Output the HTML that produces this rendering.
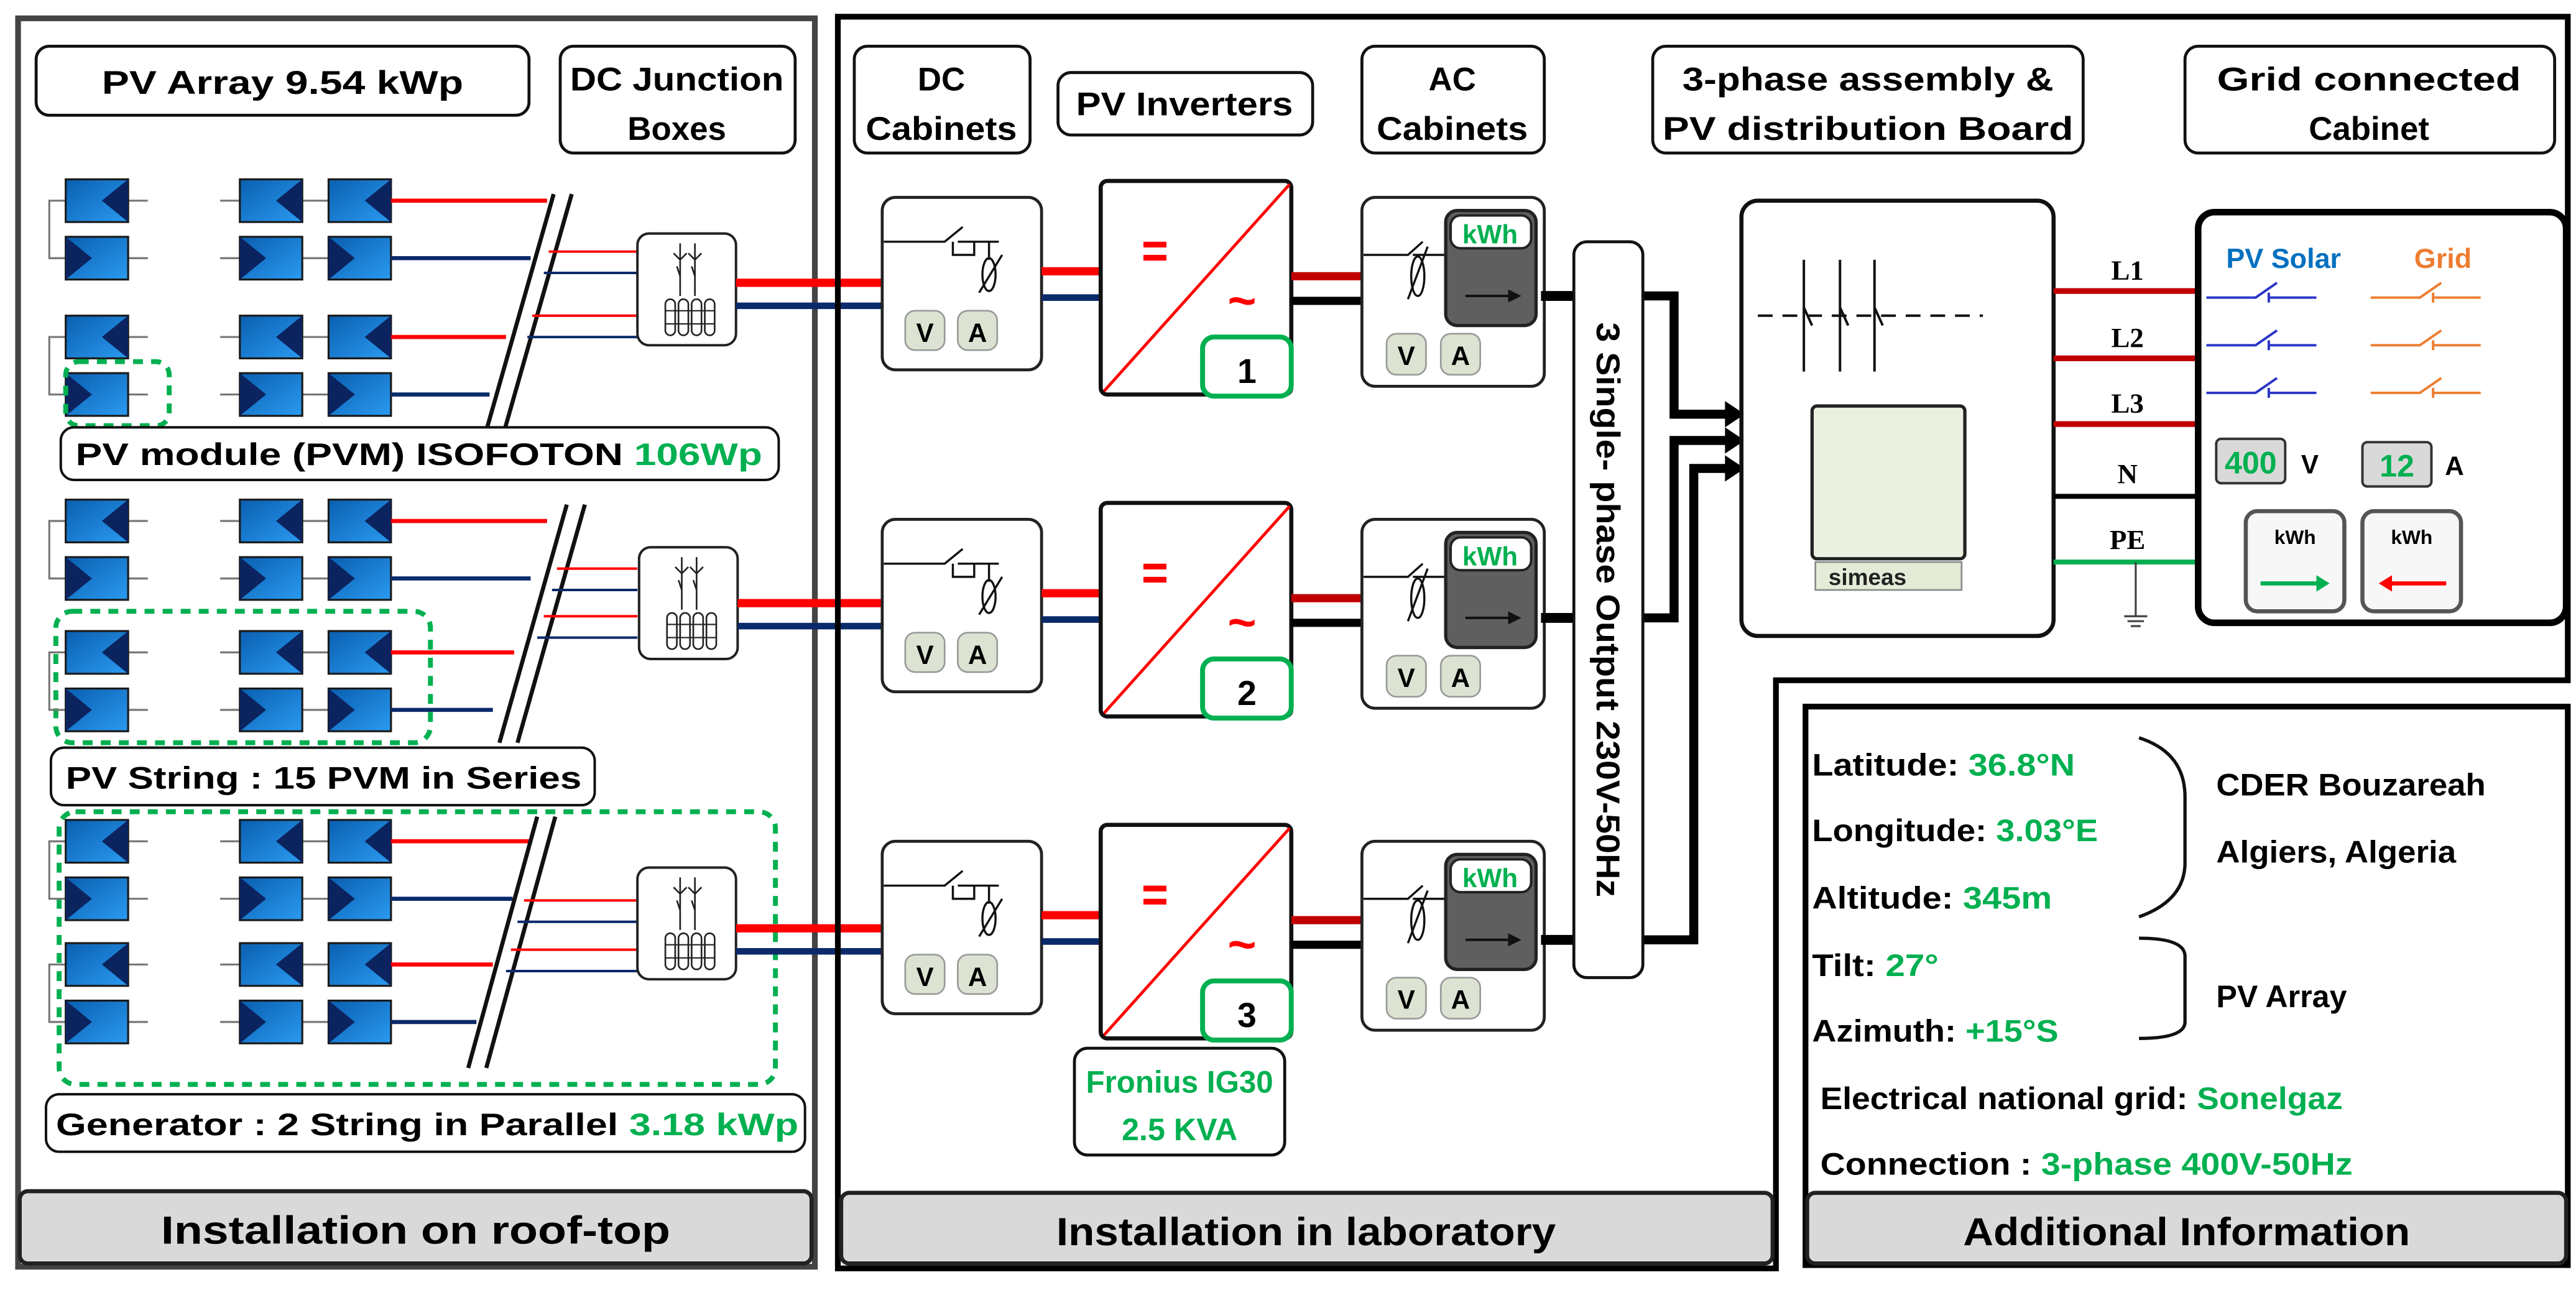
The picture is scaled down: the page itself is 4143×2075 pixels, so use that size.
<!DOCTYPE html>
<html><head><meta charset="utf-8"><style>
html,body{margin:0;padding:0;background:#fff;}
svg{display:block;}
text{font-family:"Liberation Sans",sans-serif;font-weight:bold;}
</style></head><body>
<svg width="4143" height="2075" viewBox="0 0 1568 785" xmlns="http://www.w3.org/2000/svg">
<defs>
<linearGradient id="mg" x1="0" y1="0" x2="1" y2="1"><stop offset="0" stop-color="#0a5fb0"/><stop offset="1" stop-color="#2a9af0"/></linearGradient>
<g id="mL"><rect x="0" y="-13" width="38" height="26" fill="url(#mg)" stroke="#1a1a1a" stroke-width="1.2"/><polygon points="38,-13 38,13 22,0" fill="#0b2460"/></g>
<g id="mR"><rect x="0" y="-13" width="38" height="26" fill="url(#mg)" stroke="#1a1a1a" stroke-width="1.2"/><polygon points="0,-13 0,13 16,0" fill="#0b2460"/></g>
<g id="pair">
<path d="M40,0 H30 V35 H40 M78,0 H90 M134,0 H146 M184,0 H200 M78,35 H90 M134,35 H146 M184,35 H200" stroke="#777" stroke-width="1.2" fill="none"/>
<use href="#mL" x="40"/><use href="#mL" x="146"/><use href="#mL" x="200"/>
<use href="#mR" x="40" y="35"/><use href="#mR" x="146" y="35"/><use href="#mR" x="200" y="35"/>
</g>
<g id="jb">
<rect x="0" y="0" width="60" height="68" rx="7" fill="#fff" stroke="#222" stroke-width="1.5"/>
<path d="M26,6 V16 M22,12 L26,16 L30,12 M35,6 V16 M31,12 L35,16 L39,12 M26,16 V26 L24,20 M26,26 V38 M35,16 V26 L33,20 M35,26 V38" stroke="#222" stroke-width="1" fill="none"/>
<rect x="17" y="40" width="6" height="22" rx="3" fill="#fff" stroke="#222" stroke-width="1"/>
<rect x="25" y="40" width="6" height="22" rx="3" fill="#fff" stroke="#222" stroke-width="1"/>
<rect x="33" y="40" width="6" height="22" rx="3" fill="#fff" stroke="#222" stroke-width="1"/>
<rect x="41" y="40" width="6" height="22" rx="3" fill="#fff" stroke="#222" stroke-width="1"/>
<path d="M17,47 H47 M17,55 H47" stroke="#222" stroke-width="0.8"/>
</g>
<g id="row">
<rect x="537" y="120" width="97" height="105" rx="8" fill="#fff" stroke="#222" stroke-width="1.8"/>
<path d="M538,147 H575 L586,138 M580,147 V155 H593 V147 M583,147 H608 M602,147 V158" stroke="#111" stroke-width="1.3" fill="none"/>
<ellipse cx="602" cy="167" rx="4" ry="10" fill="none" stroke="#111" stroke-width="1.3"/>
<path d="M596,178 L610,155" stroke="#111" stroke-width="1.3"/>
<rect x="551" y="189" width="24" height="24" rx="6" fill="#dce3d2" stroke="#999" stroke-width="1"/>
<rect x="583" y="189" width="24" height="24" rx="6" fill="#dce3d2" stroke="#999" stroke-width="1"/>
<text x="563" y="208" font-size="16" font-weight="normal" text-anchor="middle">V</text>
<text x="595" y="208" font-size="16" font-weight="normal" text-anchor="middle">A</text>
<path d="M634,165 H670" stroke="#ff0000" stroke-width="5"/>
<path d="M634,181 H670" stroke="#0a2a6a" stroke-width="4"/>
<rect x="670" y="110" width="116" height="130" rx="4" fill="#fff" stroke="#111" stroke-width="2.5"/>
<path d="M672,238 L785,112" stroke="#ff0000" stroke-width="1.8"/>
<rect x="696" y="147" width="14" height="3.5" fill="#ff0000"/><rect x="696" y="155" width="14" height="3.5" fill="#ff0000"/>
<text x="756" y="193" font-size="30" fill="#ff0000" text-anchor="middle">~</text>
<rect x="732" y="205" width="54" height="36" rx="7" fill="#fff" stroke="#00b050" stroke-width="3"/>
<path d="M786,168 H829" stroke="#c00000" stroke-width="5"/>
<path d="M786,183 H829" stroke="#000" stroke-width="5"/>
<rect x="829" y="120" width="111" height="115" rx="8" fill="#fff" stroke="#222" stroke-width="1.8"/>
<path d="M830,155 H857 L866,147 M860,155 H880" stroke="#111" stroke-width="1.3" fill="none"/>
<ellipse cx="863" cy="168" rx="4" ry="12" fill="none" stroke="#111" stroke-width="1.3"/>
<path d="M857,182 L869,150" stroke="#111" stroke-width="1.3"/>
<rect x="880" y="128" width="55" height="70" rx="7" fill="#5f5f5f" stroke="#222" stroke-width="2"/>
<rect x="883" y="131" width="49" height="20" rx="6" fill="#fff" stroke="#222" stroke-width="1.5"/>
<text x="907" y="148" font-size="16" font-weight="normal" fill="#00b050" text-anchor="middle">kWh</text>
<path d="M892,180 H920" stroke="#111" stroke-width="1.5"/><polygon points="918,176 926,180 918,184" fill="#111"/>
<rect x="844" y="203" width="24" height="25" rx="6" fill="#dce3d2" stroke="#999" stroke-width="1"/>
<rect x="877" y="203" width="24" height="25" rx="6" fill="#dce3d2" stroke="#999" stroke-width="1"/>
<text x="856" y="222" font-size="16" font-weight="normal" text-anchor="middle">V</text>
<text x="889" y="222" font-size="16" font-weight="normal" text-anchor="middle">A</text>
<path d="M938,180 H960" stroke="#000" stroke-width="6"/>
</g>
</defs>

<rect x="11" y="11" width="485" height="760" fill="#fff" stroke="#444" stroke-width="3.5"/>
<rect x="22" y="28" width="300" height="42" rx="8" fill="#fff" stroke="#111" stroke-width="1.8"/>
<text x="172" y="57" font-size="20" text-anchor="middle" textLength="220" lengthAdjust="spacingAndGlyphs">PV Array 9.54 kWp</text>
<rect x="341" y="28" width="143" height="65" rx="8" fill="#fff" stroke="#111" stroke-width="1.8"/>
<text x="412" y="55" font-size="20" text-anchor="middle" textLength="130" lengthAdjust="spacingAndGlyphs">DC Junction</text>
<text x="412" y="85" font-size="20" text-anchor="middle">Boxes</text>

<rect x="34" y="372" width="228" height="80" rx="10" fill="none" stroke="#00b050" stroke-width="3" stroke-dasharray="6,5"/>
<rect x="36" y="494" width="436" height="166" rx="10" fill="none" stroke="#00b050" stroke-width="3" stroke-dasharray="6,5"/>

<use href="#pair" y="122"/><use href="#pair" y="205"/>
<rect x="40" y="220" width="63" height="39" rx="8" fill="none" stroke="#00b050" stroke-width="3" stroke-dasharray="6,5"/>
<path d="M238,122 H333 M238,205 H308" stroke="#ff0000" stroke-width="2.5"/>
<path d="M238,157 H323 M238,240 H298" stroke="#0a2a6a" stroke-width="2.5"/>
<path d="M337,118 L296,262 M348,118 L307,262" stroke="#111" stroke-width="2.5"/>
<path d="M334,153 H388 M324,192 H388" stroke="#ff0000" stroke-width="1.5"/>
<path d="M331,166 H388 M321,205 H388" stroke="#0a2a6a" stroke-width="1.5"/>
<use href="#jb" x="388" y="142"/>
<path d="M448,172 H538" stroke="#ff0000" stroke-width="5"/>
<path d="M448,186 H538" stroke="#0a2a6a" stroke-width="4"/>

<rect x="37" y="260" width="437" height="32" rx="8" fill="#fff" stroke="#111" stroke-width="1.5"/>
<text x="46" y="283" font-size="19" textLength="418" lengthAdjust="spacingAndGlyphs">PV module (PVM) ISOFOTON <tspan fill="#00b050">106Wp</tspan></text>

<use href="#pair" y="317"/><use href="#pair" y="397"/>
<path d="M238,317 H333 M238,397 H313" stroke="#ff0000" stroke-width="2.5"/>
<path d="M238,352 H323 M238,432 H300" stroke="#0a2a6a" stroke-width="2.5"/>
<path d="M345,307 L304,452 M356,307 L315,452" stroke="#111" stroke-width="2.5"/>
<path d="M339,346 H388 M331,375 H388" stroke="#ff0000" stroke-width="1.5"/>
<path d="M336,359 H388 M327,388 H388" stroke="#0a2a6a" stroke-width="1.5"/>
<use href="#jb" x="389" y="333"/>
<path d="M449,367 H538" stroke="#ff0000" stroke-width="5"/>
<path d="M449,381 H538" stroke="#0a2a6a" stroke-width="4"/>

<rect x="31" y="455" width="331" height="35" rx="8" fill="#fff" stroke="#111" stroke-width="1.5"/>
<text x="40" y="480" font-size="19" textLength="314" lengthAdjust="spacingAndGlyphs">PV String : 15 PVM in Series</text>

<use href="#pair" y="512"/><use href="#pair" y="587"/>
<path d="M238,512 H322 M238,587 H300" stroke="#ff0000" stroke-width="2.5"/>
<path d="M238,547 H312 M238,622 H290" stroke="#0a2a6a" stroke-width="2.5"/>
<path d="M327,497 L285,650 M338,497 L296,650" stroke="#111" stroke-width="2.5"/>
<path d="M319,548 H388 M311,578 H388" stroke="#ff0000" stroke-width="1.5"/>
<path d="M315,561 H388 M308,591 H388" stroke="#0a2a6a" stroke-width="1.5"/>
<use href="#jb" x="388" y="528"/>
<path d="M448,565 H538" stroke="#ff0000" stroke-width="5"/>
<path d="M448,579 H538" stroke="#0a2a6a" stroke-width="4"/>

<rect x="28" y="666" width="462" height="35" rx="8" fill="#fff" stroke="#111" stroke-width="1.5"/>
<text x="34" y="691" font-size="19" textLength="452" lengthAdjust="spacingAndGlyphs">Generator : 2 String in Parallel <tspan fill="#00b050">3.18 kWp</tspan></text>

<rect x="12" y="725" width="482" height="44" rx="5" fill="#d9d9d9" stroke="#222" stroke-width="2.5"/>
<text x="253" y="757" font-size="24" text-anchor="middle" textLength="310" lengthAdjust="spacingAndGlyphs">Installation on roof-top</text>

<path d="M510,10 H1563 V414 H1081 V772 H510 Z" fill="none" stroke="#000" stroke-width="3.5"/>

<rect x="520" y="28" width="107" height="65" rx="8" fill="#fff" stroke="#111" stroke-width="1.8"/>
<text x="573" y="55" font-size="20" text-anchor="middle">DC</text>
<text x="573" y="85" font-size="20" text-anchor="middle" textLength="92" lengthAdjust="spacingAndGlyphs">Cabinets</text>
<rect x="644" y="44" width="155" height="38" rx="8" fill="#fff" stroke="#111" stroke-width="1.8"/>
<text x="721" y="70" font-size="20" text-anchor="middle" textLength="132" lengthAdjust="spacingAndGlyphs">PV Inverters</text>
<rect x="829" y="28" width="111" height="65" rx="8" fill="#fff" stroke="#111" stroke-width="1.8"/>
<text x="884" y="55" font-size="20" text-anchor="middle">AC</text>
<text x="884" y="85" font-size="20" text-anchor="middle" textLength="92" lengthAdjust="spacingAndGlyphs">Cabinets</text>
<rect x="1006" y="28" width="262" height="65" rx="8" fill="#fff" stroke="#111" stroke-width="1.8"/>
<text x="1137" y="55" font-size="20" text-anchor="middle" textLength="226" lengthAdjust="spacingAndGlyphs">3-phase assembly &amp;</text>
<text x="1137" y="85" font-size="20" text-anchor="middle" textLength="250" lengthAdjust="spacingAndGlyphs">PV distribution Board</text>
<rect x="1330" y="28" width="225" height="65" rx="8" fill="#fff" stroke="#111" stroke-width="1.8"/>
<text x="1442" y="55" font-size="20" text-anchor="middle" textLength="185" lengthAdjust="spacingAndGlyphs">Grid connected</text>
<text x="1442" y="85" font-size="20" text-anchor="middle">Cabinet</text>

<use href="#row"/>
<text x="759" y="233" font-size="21" text-anchor="middle">1</text>
<use href="#row" y="196"/>
<text x="759" y="429" font-size="21" text-anchor="middle">2</text>
<use href="#row" y="392"/>
<text x="759" y="625" font-size="21" text-anchor="middle">3</text>

<rect x="654" y="638" width="128" height="65" rx="8" fill="#fff" stroke="#111" stroke-width="1.8"/>
<text x="718" y="665" font-size="19" fill="#00b050" text-anchor="middle" textLength="114" lengthAdjust="spacingAndGlyphs">Fronius IG30</text>
<text x="718" y="694" font-size="19" fill="#00b050" text-anchor="middle">2.5 KVA</text>

<path d="M998,180 H1019 V252 H1053" stroke="#000" stroke-width="5.5" fill="none"/>
<path d="M998,376 H1019 V268 H1053" stroke="#000" stroke-width="5.5" fill="none"/>
<path d="M998,572 H1031 V285 H1053" stroke="#000" stroke-width="5.5" fill="none"/>
<polygon points="1050,244 1062,252 1050,260" fill="#000"/>
<polygon points="1050,260 1062,268 1050,276" fill="#000"/>
<polygon points="1050,277 1062,285 1050,293" fill="#000"/>

<rect x="958" y="147" width="42" height="448" rx="8" fill="#fff" stroke="#111" stroke-width="1.8"/>
<text transform="translate(972,371) rotate(90)" font-size="20" text-anchor="middle" textLength="350" lengthAdjust="spacingAndGlyphs">3 Single- phase Output  230V-50Hz</text>

<rect x="512" y="726" width="567" height="43" rx="5" fill="#d9d9d9" stroke="#222" stroke-width="2.5"/>
<text x="795" y="758" font-size="24" text-anchor="middle" textLength="304" lengthAdjust="spacingAndGlyphs">Installation in laboratory</text>

<rect x="1060" y="122" width="190" height="265" rx="10" fill="#fff" stroke="#111" stroke-width="2.5"/>
<path d="M1098,158 V226 M1120,158 V226 M1141,158 V226" stroke="#111" stroke-width="1.5"/>
<path d="M1098,187 L1103,198 M1120,187 L1125,198 M1141,187 L1146,198" stroke="#111" stroke-width="1.5"/>
<path d="M1070,192 H1207" stroke="#111" stroke-width="1.5" stroke-dasharray="9,6"/>
<rect x="1103" y="247" width="93" height="93" rx="3" fill="#ebf1e0" stroke="#222" stroke-width="2"/>
<rect x="1105" y="342" width="89" height="17" fill="#e4ecd8" stroke="#888" stroke-width="1"/>
<text x="1113" y="356" font-size="14" fill="#222">simeas</text>

<path d="M1250,177 H1337 M1250,218 H1337 M1250,258 H1337" stroke="#c00000" stroke-width="3.5"/>
<path d="M1250,302 H1337" stroke="#000" stroke-width="3"/>
<path d="M1250,342 H1337" stroke="#00b050" stroke-width="3"/>
<path d="M1300,342 V375 M1293,375 H1307 M1295,378 H1305 M1297,381 H1303" stroke="#444" stroke-width="1.2"/>
<g font-size="17" text-anchor="middle">
<text x="1295" y="170" style="font-family:'Liberation Serif',serif">L1</text>
<text x="1295" y="211" style="font-family:'Liberation Serif',serif">L2</text>
<text x="1295" y="251" style="font-family:'Liberation Serif',serif">L3</text>
<text x="1295" y="294" style="font-family:'Liberation Serif',serif">N</text>
<text x="1295" y="334" style="font-family:'Liberation Serif',serif">PE</text>
</g>

<rect x="1338" y="129" width="224" height="250" rx="10" fill="#fff" stroke="#000" stroke-width="4"/>
<text x="1390" y="163" font-size="17" fill="#0070c0" text-anchor="middle" font-weight="normal">PV Solar</text>
<text x="1487" y="163" font-size="17" fill="#ed7d31" text-anchor="middle" font-weight="normal">Grid</text>
<g stroke="#2b35c8" stroke-width="1.5" fill="none">
<path d="M1343,181 H1373 L1386,172 M1381,181 H1410 M1381,178 V184"/>
<path d="M1343,210 H1373 L1386,201 M1381,210 H1410 M1381,207 V213"/>
<path d="M1343,239 H1373 L1386,230 M1381,239 H1410 M1381,236 V242"/>
</g>
<g stroke="#ed7d31" stroke-width="1.5" fill="none">
<path d="M1443,181 H1473 L1486,172 M1481,181 H1510 M1481,178 V184"/>
<path d="M1443,210 H1473 L1486,201 M1481,210 H1510 M1481,207 V213"/>
<path d="M1443,239 H1473 L1486,230 M1481,239 H1510 M1481,236 V242"/>
</g>
<rect x="1349" y="267" width="42" height="27" rx="3" fill="#d9d9d9" stroke="#333" stroke-width="1.5"/>
<text x="1370" y="288" font-size="19" fill="#00b050" text-anchor="middle">400</text>
<text x="1406" y="288" font-size="16" font-weight="normal" text-anchor="middle">V</text>
<rect x="1438" y="269" width="42" height="27" rx="3" fill="#d9d9d9" stroke="#333" stroke-width="1.5"/>
<text x="1459" y="290" font-size="19" fill="#00b050" text-anchor="middle">12</text>
<text x="1494" y="289" font-size="16" font-weight="normal" text-anchor="middle">A</text>
<rect x="1367" y="311" width="60" height="61" rx="7" fill="#f7f7f7" stroke="#555" stroke-width="2.5"/>
<text x="1397" y="331" font-size="12" font-weight="normal" text-anchor="middle">kWh</text>
<path d="M1376,355 H1412" stroke="#00b050" stroke-width="2.5"/><polygon points="1410,350 1418,355 1410,360" fill="#00b050"/>
<rect x="1438" y="311" width="60" height="61" rx="7" fill="#f7f7f7" stroke="#555" stroke-width="2.5"/>
<text x="1468" y="331" font-size="12" font-weight="normal" text-anchor="middle">kWh</text>
<path d="M1454,355 H1489" stroke="#ff0000" stroke-width="2.5"/><polygon points="1456,350 1448,355 1456,360" fill="#ff0000"/>

<rect x="1099" y="430" width="464" height="340" fill="#fff" stroke="#000" stroke-width="3.5"/>
<g font-size="19">
<text x="1103" y="472" textLength="160" lengthAdjust="spacingAndGlyphs">Latitude: <tspan fill="#00b050">36.8°N</tspan></text>
<text x="1103" y="512" textLength="174" lengthAdjust="spacingAndGlyphs">Longitude: <tspan fill="#00b050">3.03°E</tspan></text>
<text x="1103" y="553" textLength="146" lengthAdjust="spacingAndGlyphs">Altitude: <tspan fill="#00b050">345m</tspan></text>
<text x="1103" y="594" textLength="77" lengthAdjust="spacingAndGlyphs">Tilt: <tspan fill="#00b050">27°</tspan></text>
<text x="1103" y="634" textLength="150" lengthAdjust="spacingAndGlyphs">Azimuth: <tspan fill="#00b050">+15°S</tspan></text>
<text x="1108" y="675" textLength="318" lengthAdjust="spacingAndGlyphs">Electrical national grid: <tspan fill="#00b050">Sonelgaz</tspan></text>
<text x="1108" y="715" textLength="324" lengthAdjust="spacingAndGlyphs">Connection : <tspan fill="#00b050">3-phase  400V-50Hz</tspan></text>
<text x="1349" y="484" textLength="164" lengthAdjust="spacingAndGlyphs">CDER Bouzareah</text>
<text x="1349" y="525" textLength="146" lengthAdjust="spacingAndGlyphs">Algiers, Algeria</text>
<text x="1349" y="613">PV Array</text>
</g>
<path d="M1302,449 Q1330,458 1330,485 V525 Q1330,548 1302,558" stroke="#111" stroke-width="2" fill="none"/>
<path d="M1302,571 Q1330,571 1330,582 V622 Q1330,632 1302,632" stroke="#111" stroke-width="2" fill="none"/>
<rect x="1100" y="726" width="462" height="43" rx="5" fill="#d9d9d9" stroke="#222" stroke-width="2.5"/>
<text x="1331" y="758" font-size="24" text-anchor="middle" textLength="272" lengthAdjust="spacingAndGlyphs">Additional Information</text>
</svg>
</body></html>
